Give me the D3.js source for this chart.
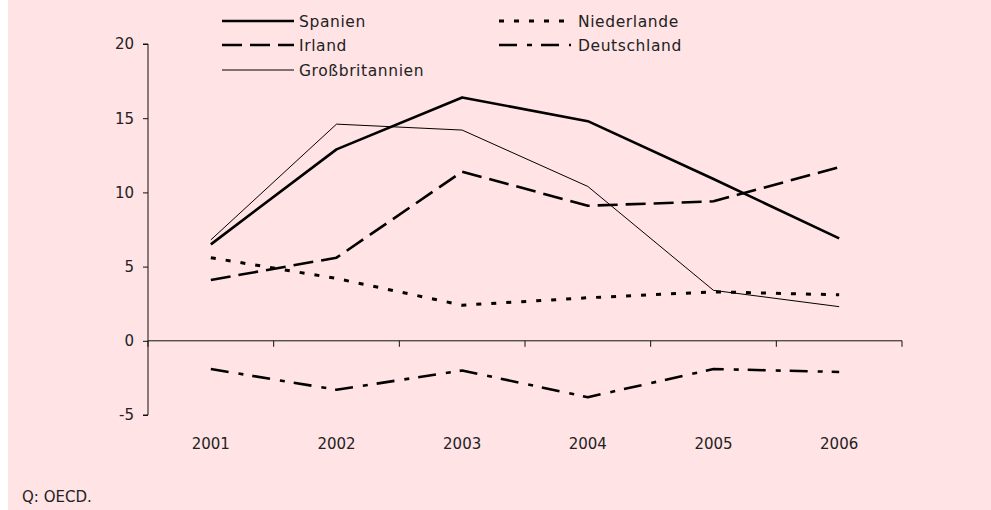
<!DOCTYPE html>
<html><head><meta charset="utf-8">
<script src="https://cdn.jsdelivr.net/npm/d3@7"></script>
<style>
html,body{margin:0;padding:0;background:#fff;}
svg text{font-family:"DejaVu Sans",sans-serif;fill:#222;}
</style></head>
<body><svg id="c" width="991" height="510"></svg>
<script>
const years = ["2001","2002","2003","2004","2005","2006"];
const spanien = [6.5, 12.9, 16.4, 14.8, 10.9, 6.9];
const niederlande = [5.6, 4.2, 2.4, 2.9, 3.3, 3.1];
const irland = [4.1, 5.6, 11.4, 9.1, 9.4, 11.7];
const deutschland = [-1.9, -3.3, -2.0, -3.8, -1.9, -2.1];
const grossbritannien = [6.8, 14.6, 14.2, 10.4, 3.4, 2.3];
const yTicks = [-5, 0, 5, 10, 15, 20];
const seriesNames = ["Spanien","Niederlande","Irland","Deutschland","Großbritannien"];

const styles = {
  "Spanien": {w:2.6, dash:null},
  "Niederlande": {w:3, dash:"5,10"},
  "Irland": {w:2.6, dash:"20,8"},
  "Deutschland": {w:2.6, dash:"18,10,5,9"},
  "Großbritannien": {w:1, dash:null}
};
const dataMap = {"Spanien":spanien,"Niederlande":niederlande,"Irland":irland,"Deutschland":deutschland,"Großbritannien":grossbritannien};

const svg = d3.select("#c");
svg.append("rect").attr("x",8).attr("y",0).attr("width",983).attr("height",510).attr("fill","#ffe3e5");

const x = d3.scaleBand().domain(years).range([148,902]).padding(0);
const y = d3.scaleLinear().domain([-5,20]).range([415,44]);
const cx = d => x(d) + x.bandwidth()/2;

// y axis
const ya = svg.append("g").attr("transform","translate(148,0)")
  .call(d3.axisLeft(y).tickValues(yTicks).tickSize(5).tickPadding(9).tickFormat(d => String(d)));
ya.select(".domain").attr("stroke","#111").attr("d","M-5,"+y(-5)+"H0V"+y(20)+"H-5");
ya.selectAll(".tick line").attr("stroke","#111");
ya.selectAll("text").style("font-size","15px").style("font-family","DejaVu Sans, sans-serif").attr("fill","#222");

// x axis at 0
const xg = svg.append("g");
xg.append("line").attr("x1",148).attr("x2",902).attr("y1",y(0)).attr("y2",y(0)).attr("stroke","#111");
const bounds = years.map(d=>x(d)).concat([x(years[years.length-1])+x.bandwidth()]);
xg.selectAll("line.t").data(bounds).enter().append("line").attr("class","t")
  .attr("x1",d=>d).attr("x2",d=>d).attr("y1",y(0)).attr("y2",y(0)+6).attr("stroke","#111");
xg.selectAll("text").data(years).enter().append("text")
  .attr("x",d=>cx(d)).attr("y",449).attr("text-anchor","middle").style("font-size","15px").text(d=>d);

// lines
const line = d3.line().x((d,i)=>cx(years[i])).y(d=>y(d));
seriesNames.forEach(n=>{
  const s = styles[n];
  svg.append("path").attr("d",line(dataMap[n])).attr("fill","none").attr("stroke","#000")
    .attr("stroke-width",s.w).attr("stroke-dasharray",s.dash).attr("stroke-linejoin","round");
});

// legend
const leg = [
  {n:"Spanien", x:222, y:21},
  {n:"Niederlande", x:499, y:21},
  {n:"Irland", x:222, y:45},
  {n:"Deutschland", x:499, y:45},
  {n:"Großbritannien", x:222, y:70}
];
leg.forEach(l=>{
  const s = styles[l.n];
  svg.append("line").attr("x1",l.x).attr("x2",l.x+72).attr("y1",l.y).attr("y2",l.y)
    .attr("stroke","#000").attr("stroke-width",s.w).attr("stroke-dasharray",s.dash);
  svg.append("text").attr("x",l.x + (l.x>400?79:77)).attr("y",l.y+5.5)
    .style("font-size","15.5px").style("letter-spacing","0.6px").text(l.n);
});

svg.append("text").attr("x",22).attr("y",502).style("font-size","15px").text("Q: OECD.");
</script></body></html>
